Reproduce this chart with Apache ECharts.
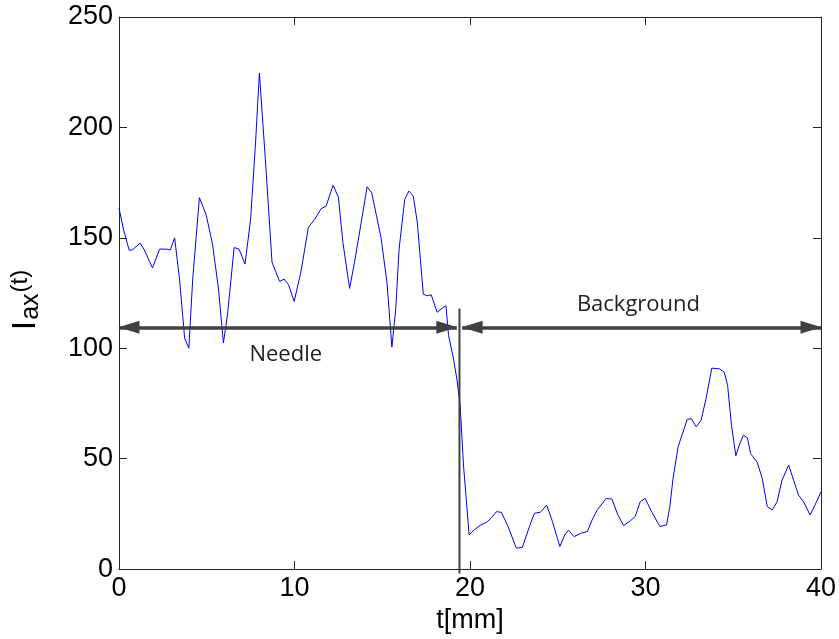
<!DOCTYPE html>
<html>
<head>
<meta charset="utf-8">
<script src="https://cdn.jsdelivr.net/npm/echarts@6/dist/echarts.min.js"></script>
<style>
  html, body { margin: 0; padding: 0; background: #fff; }
  #chart { width: 839px; height: 639px; }
</style>
</head>
<body>
<div id="chart"></div>
<script>
// Axial intensity profile along the scan, in mm
const tValues = [
  0, 0.25, 0.58, 0.75, 1.2, 1.42, 1.91, 2.32, 2.7, 2.92, 3.17, 3.45, 3.74, 3.98, 4.2, 4.58, 4.96,
  5.33, 5.67, 5.95, 6.18, 6.56, 6.84, 7.18, 7.5, 7.78, 8.0, 8.34, 8.72, 9.15, 9.41, 9.66, 9.98,
  10.36, 10.79, 11.16, 11.52, 11.8, 12.2, 12.5, 12.76, 13.14, 13.42, 13.8, 14.14, 14.4, 14.93,
  15.27, 15.55, 15.77, 15.96, 16.28, 16.52, 16.77, 17.0, 17.34, 17.56, 17.79, 18.13, 18.41,
  18.63, 18.78, 19.06, 19.25, 19.44, 19.63, 19.95, 20.23, 20.61, 20.95, 21.23, 21.51, 21.79,
  22.17, 22.64, 22.98, 23.39, 23.67, 24.0, 24.37, 24.7, 25.12, 25.4, 25.61, 25.93, 26.31, 26.69,
  26.93, 27.25, 27.76, 28.09, 28.43, 28.75, 29.13, 29.41, 29.7, 29.98, 30.35, 30.82, 31.2,
  31.39, 31.57, 31.86, 32.14, 32.38, 32.61, 32.89, 33.17, 33.45, 33.78, 34.21, 34.49, 34.68,
  34.9, 35.15, 35.34, 35.58, 35.81, 35.99, 36.37, 36.65, 36.94, 37.22, 37.5, 37.78, 38.16,
  38.44, 38.72, 39.01, 39.38, 39.66, 40.0
];
const intensity = [
  163.5, 154, 144.4, 144.5, 147.6, 144.9, 136.4, 144.9, 144.9, 144.5, 150, 131.3, 104.6, 100, 131.3, 168.2, 160.6,
  147.1, 126.8, 102.4, 115, 145.6, 144.9, 138.1, 158.4, 193, 224.6, 185.5, 138.9, 130.3, 131.3, 128.8, 121.2,
  134.3, 154.8, 158.4, 163.2, 164.3, 173.8, 168.5, 147.9, 127.1, 138.9, 156.9, 173.1, 170.4, 150.1,
  129.8, 100.5, 117.8, 144.9, 167.4, 171.2, 168.9, 156.9, 124.5, 123.8, 124.2, 116.3, 118.1,
  119.3, 105.7, 95.2, 86.2, 74.1, 47.1, 15.5, 17.7, 20, 21.2, 23.3, 26, 25.7,
  19.3, 9.5, 9.8, 19.3, 25.3, 25.7, 29, 21.5, 10.2, 15.5, 17.7, 14.7, 16.2, 17,
  21.8, 26.8, 32, 31.7, 24.5, 19.7, 21.8, 23.8, 30.5, 32, 26, 19.3, 20,
  28.3, 41.1, 55.4, 62.1, 67.8, 68.1, 64.4, 67.4, 77.2, 91, 90.7, 89.2, 83.2,
  65.1, 51.3, 56.1, 60.6, 59.4, 52.3, 48.3, 41.1, 28.3, 26.8, 30.5, 40.3, 47.1,
  40.3, 33.5, 30.5, 24.5, 29, 35
];

// Boundary between needle and background regions
const boundaryT = 19.4;
const boundaryRange = [118, -2];
const arrowLevel = 109.5;
const needleSpan = [0, 19.25];
const backgroundSpan = [19.55, 40];
const regionLabels = [
  { text: 'Needle', t: 9.5, v: 97 },
  { text: 'Background', t: 29.6, v: 119.5 }
];

const xTicks = { min: 0, max: 40, interval: 10 };
const yTicks = { min: 0, max: 250, interval: 50 };

const axisColor = '#262626';
const annotColor = '#404040';
const font = "'Liberation Sans', Arial, sans-serif";

const chart = echarts.init(document.getElementById('chart'), null, { renderer: 'canvas' });

const baseAxis = {
  type: 'value',
  splitLine: { show: false },
  axisLine: { show: true, onZero: false, lineStyle: { color: axisColor, width: 1 } },
  axisTick: { show: true, inside: true, length: 8, lineStyle: { color: axisColor } },
};

const option = {
  backgroundColor: '#fff',
  animation: false,
  grid: { left: 115.5, right: 15, top: 17, bottom: 68, containLabel: false },
  xAxis: [
    Object.assign({}, baseAxis, {
      position: 'bottom', min: xTicks.min, max: xTicks.max, interval: xTicks.interval,
      axisLabel: { color: '#000', fontSize: 27, fontFamily: font, margin: 6 },
      name: 't[mm]', nameLocation: 'middle', nameGap: 35,
      nameTextStyle: { color: '#000', fontSize: 27, fontFamily: font }
    }),
    Object.assign({}, baseAxis, {
      position: 'top', min: xTicks.min, max: xTicks.max, interval: xTicks.interval,
      axisLabel: { show: false }
    })
  ],
  yAxis: [
    Object.assign({}, baseAxis, {
      position: 'left', min: yTicks.min, max: yTicks.max, interval: yTicks.interval,
      axisLabel: { color: '#000', fontSize: 27, fontFamily: font, margin: 6 },
      name: '{i|I}{sub|ax}{sup|(t)}', nameLocation: 'middle', nameGap: 75, nameRotate: 90,
      nameTextStyle: {
        color: '#000', fontFamily: font,
        rich: {
          i: { fontSize: 34, fontFamily: font, color: '#000', lineHeight: 36, verticalAlign: 'middle', padding: [0, 1, 0, 0] },
          sub: { fontSize: 25, fontFamily: font, color: '#000', lineHeight: 25, verticalAlign: 'bottom', padding: [0, 1, 0, 0] },
          sup: { fontSize: 24, fontFamily: font, color: '#000', lineHeight: 24, verticalAlign: 'top', padding: [0, 14, 0, 0] }
        }
      }
    }),
    Object.assign({}, baseAxis, {
      position: 'right', min: yTicks.min, max: yTicks.max, interval: yTicks.interval,
      axisLabel: { show: false }
    })
  ],
  series: [
    {
      type: 'line',
      name: 'profile',
      data: tValues.map((t, i) => [t, intensity[i]]),
      showSymbol: false,
      symbol: 'none',
      lineStyle: { color: '#0000ff', width: 1 },
      z: 3
    },
    {
      type: 'line',
      name: 'boundary',
      data: boundaryRange.map(v => [boundaryT, v]),
      showSymbol: false,
      symbol: 'none',
      clip: false,
      lineStyle: { color: annotColor, width: 2 },
      z: 4,
      markLine: {
        silent: true,
        symbol: ['triangle', 'triangle'],
        symbolSize: [13, 21],
        symbolOffset: [[0, 10], [0, 10]],
        label: { show: false },
        lineStyle: { color: annotColor, width: 3.5, type: 'solid' },
        itemStyle: { color: annotColor },
        data: [
          [{ coord: [needleSpan[0], arrowLevel] }, { coord: [needleSpan[1], arrowLevel] }],
          [{ coord: [backgroundSpan[0], arrowLevel] }, { coord: [backgroundSpan[1], arrowLevel] }]
        ]
      },
      markPoint: {
        silent: true,
        symbol: 'circle',
        symbolSize: 0,
        label: {
          show: true, position: 'inside', color: '#222',
          fontSize: 22, fontFamily: "'Open Sans', 'Noto Sans', sans-serif",
          formatter: p => p.name
        },
        data: regionLabels.map(l => ({ name: l.text, coord: [l.t, l.v] }))
      }
    }
  ]
};

chart.setOption(option);
</script>
</body>
</html>
